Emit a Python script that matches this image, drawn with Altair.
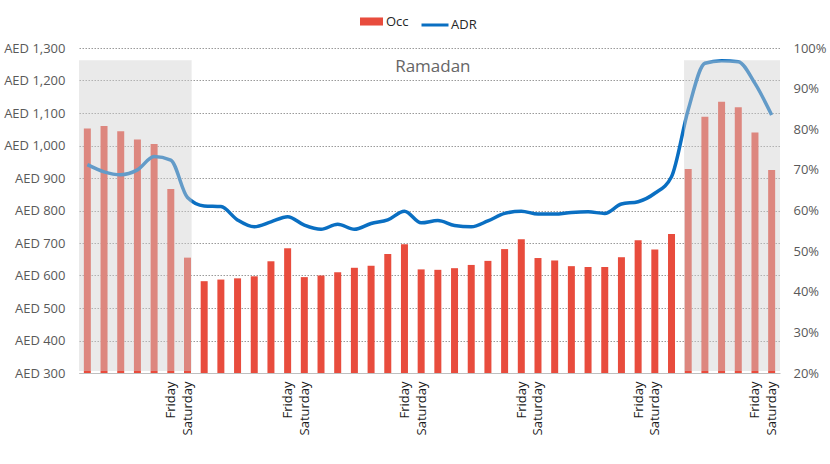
import json
import altair as alt
import pandas as pd

# ---- data ----
day_index = list(range(42))
day_labels = ["", "", "", "", "", "Friday", "Saturday",
              "", "", "", "", "", "Friday", "Saturday",
              "", "", "", "", "", "Friday", "Saturday",
              "", "", "", "", "", "Friday", "Saturday",
              "", "", "", "", "", "Friday", "Saturday",
              "", "", "", "", "", "Friday", "Saturday"]
occ = [80.2, 80.8, 79.5, 77.5, 76.4, 65.3, 48.4,
       42.6, 43.0, 43.3, 43.8, 47.5, 50.7,
       43.6, 44.0, 44.8, 45.9, 46.4, 49.3, 51.7,
       45.5, 45.4, 45.8, 46.6, 47.6, 50.5, 52.9,
       48.3, 47.7, 46.3, 46.1, 46.1, 48.5, 52.7, 50.4, 54.2,
       70.2, 83.1, 86.8, 85.4, 79.2, 70.0]
adr = [941, 919, 910, 925, 966, 955, 840, 814, 812, 771, 750, 765,
       781, 755, 742, 758, 742, 760, 771, 798, 762, 769, 754, 750,
       768, 791, 798, 789, 789, 794, 796, 791, 820, 827, 853, 904,
       1110, 1253, 1261, 1258, 1191, 1094]
# periods outside Ramadan (shaded), in day-index units
shade_start = [-0.5, 35.75]
shade_end = [6.25, 41.5]
shade_top = [97.0, 97.0]
shade_bottom = [20.5, 20.5]
note_text = ["Ramadan"]
note_x = [20.7]
note_y = [1241]

df = pd.DataFrame({"day": day_index, "occ": occ, "adr": adr,
                   "s_occ": ["Occ"] * 42, "s_adr": ["ADR"] * 42})
shade = pd.DataFrame({"x0": shade_start, "x1": shade_end,
                      "y0": shade_bottom, "y1": shade_top})
note = pd.DataFrame({"t": note_text, "x": note_x, "y": note_y})

FONT = "Open Sans"
RED = "#e84c3d"
BLUE = "#0a6fc2"

x_scale = alt.Scale(domain=[-0.5, 41.5], nice=False, zero=False, padding=0)
label_expr = json.dumps(day_labels) + "[datum.value]"
x_axis = alt.Axis(values=day_index, labelExpr=label_expr, labelAngle=270,
                  ticks=False, grid=False, domain=True, domainColor="#bfbfbf",
                  domainWidth=1, labelFontSize=13, labelColor="#1a1a1a",
                  labelPadding=8, labelFont=FONT, title=None, labelFlush=False,
                  labelOverlap=False, labelAlign="right", labelBaseline="middle")

bars = alt.Chart(df).mark_bar(size=7).encode(
    x=alt.X("day:Q", scale=x_scale, axis=x_axis, title=None),
    y=alt.Y("occ:Q", scale=alt.Scale(domain=[20, 100], nice=False, zero=False),
            axis=alt.Axis(orient="right", values=list(range(20, 101, 10)),
                          labelExpr="datum.value + '%'", grid=False, ticks=False,
                          domain=False, labelFontSize=13, labelColor="#595959",
                          labelPadding=13, labelFont=FONT, title=None)),
    y2=alt.datum(20),
    color=alt.Color("s_occ:N", scale=alt.Scale(domain=["Occ"], range=[RED]),
                    legend=alt.Legend(title=None, orient="none", legendX=281, legendY=-38,
                                      symbolType="M-1,-0.35H1V0.35H-1Z", symbolSize=529,
                                      symbolStrokeWidth=0, labelFontSize=13,
                                      labelColor="#262626", labelFont=FONT, padding=0,
                                      labelOffset=3)),
)

line = alt.Chart(df).mark_line(strokeWidth=3.5, interpolate="monotone").encode(
    x=alt.X("day:Q", scale=x_scale, axis=x_axis, title=None),
    y=alt.Y("adr:Q", scale=alt.Scale(domain=[300, 1300], nice=False, zero=False),
            axis=alt.Axis(orient="left", values=list(range(300, 1301, 100)),
                          labelExpr="'AED ' + format(datum.value, ',')",
                          grid=True, gridDash=[1.5, 1.5], gridColor="#9a9a9a",
                          gridWidth=1, ticks=False, domain=False, labelFontSize=13,
                          labelColor="#595959", labelPadding=14, labelFont=FONT,
                          title=None)),
    stroke=alt.Stroke("s_adr:N", scale=alt.Scale(domain=["ADR"], range=[BLUE]),
                      legend=alt.Legend(title=None, orient="none", legendX=341, legendY=-38,
                                        symbolType="stroke", symbolSize=729,
                                        symbolStrokeWidth=3, labelFontSize=13,
                                        labelColor="#262626", labelFont=FONT, padding=0,
                                        labelOffset=1)),
)

overlay = alt.Chart(shade).mark_rect(color="#d0d0d0", opacity=0.45).encode(
    x=alt.X("x0:Q", scale=x_scale, axis=x_axis, title=None),
    x2="x1:Q",
    y=alt.Y("y0:Q", scale=alt.Scale(domain=[20, 100], nice=False, zero=False), axis=None),
    y2="y1:Q",
)

text = alt.Chart(note).mark_text(fontSize=17, color="#666666", font=FONT).encode(
    x=alt.X("x:Q", scale=x_scale, axis=x_axis, title=None),
    y=alt.Y("y:Q", scale=alt.Scale(domain=[300, 1300], nice=False, zero=False), axis=None),
    text="t:N",
)

chart = alt.layer(bars, line, overlay, text).resolve_scale(
    y="independent"
).properties(
    width=701, height=325,
    autosize=alt.AutoSizeParams(type="none"),
    padding={"left": 79, "top": 48, "right": 50, "bottom": 91},
    background="white",
).configure_view(stroke=None)

chart.save("out.html", embed_options={"renderer": "svg", "actions": False})
